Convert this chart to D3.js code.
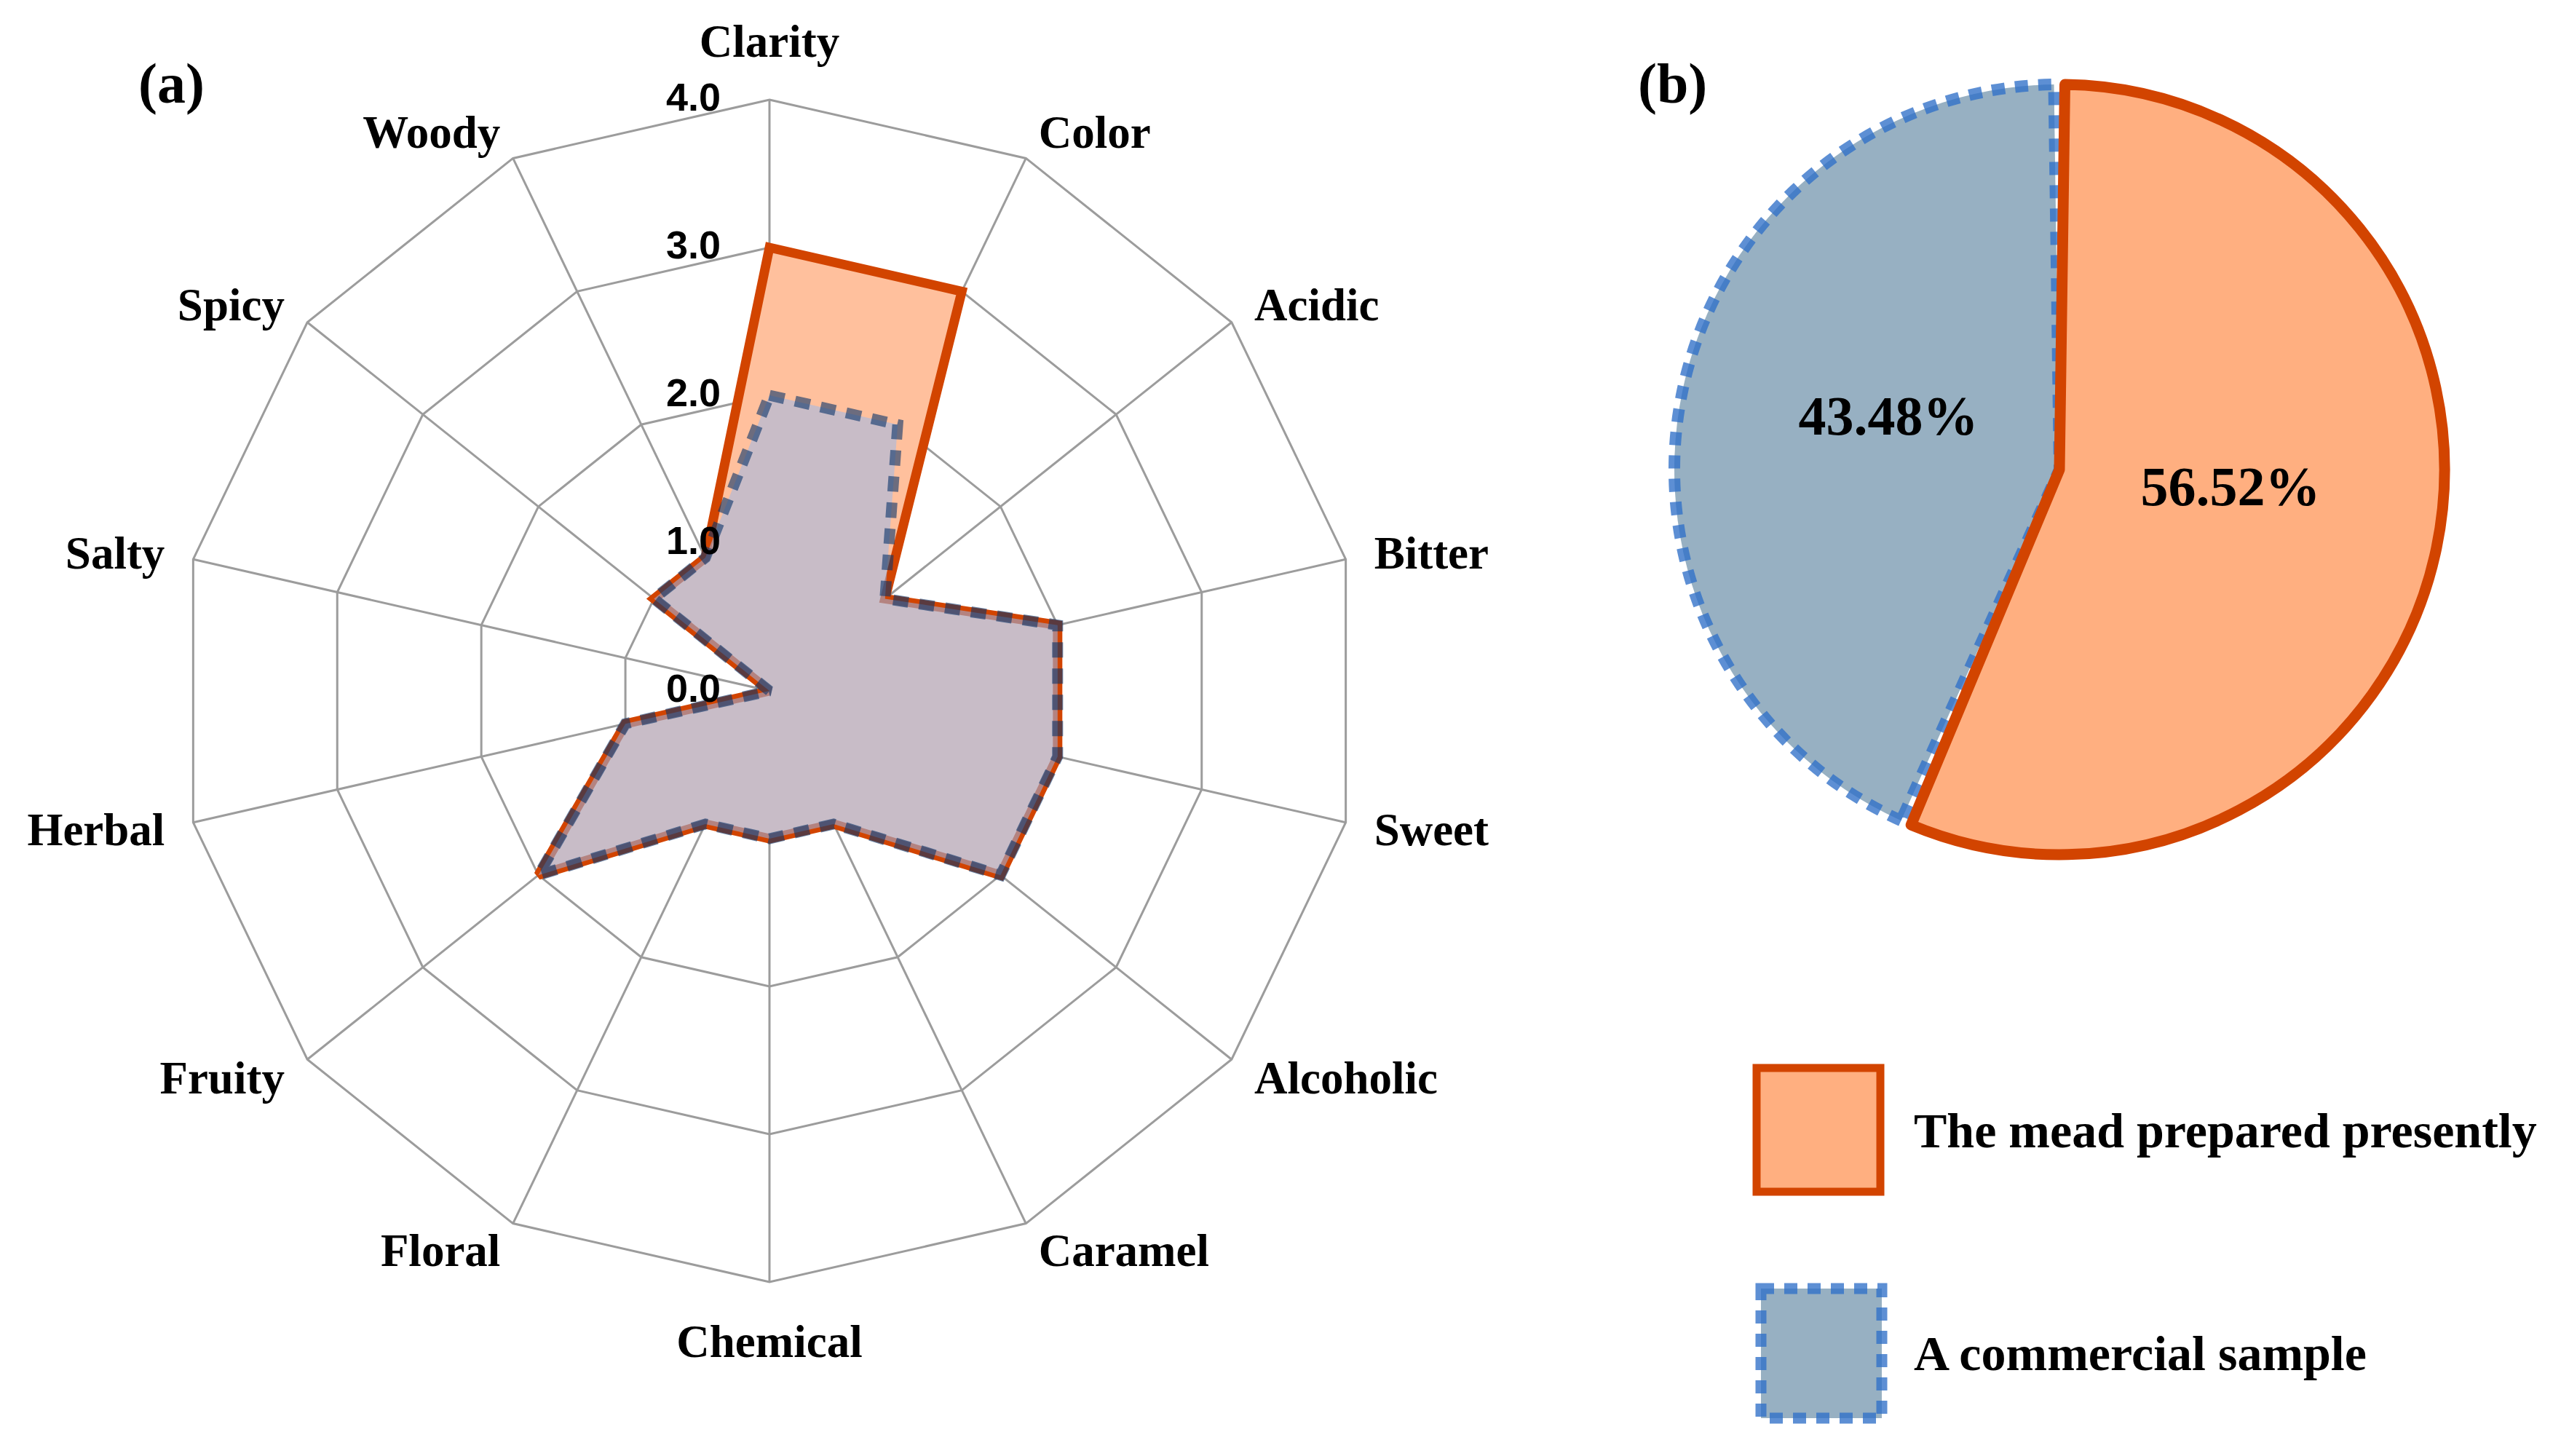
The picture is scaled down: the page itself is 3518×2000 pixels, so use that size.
<!DOCTYPE html>
<html>
<head>
<meta charset="utf-8">
<script src="https://cdn.jsdelivr.net/npm/d3@7"></script>
<style>
  body { margin: 0; background: #fff; }
  .axis-label { font-family: "Liberation Serif", "DejaVu Serif", serif; font-weight: bold; font-size: 63px; fill: #000; }
  .tick-label { font-family: "Liberation Sans", Arial, sans-serif; font-weight: bold; font-size: 54px; fill: #000; }
  .panel-label { font-family: "Liberation Serif", serif; font-weight: bold; font-size: 78px; fill: #000; }
  .pct-label { font-family: "Liberation Serif", serif; font-weight: bold; font-size: 76px; fill: #000; }
  .legend-label { font-family: "Liberation Serif", serif; font-weight: bold; font-size: 68px; fill: #000; }
</style>
</head>
<body>
<svg id="chart" width="3518" height="2000"></svg>
<script>
// ---- data ----
const attributes = ['Clarity', 'Color', 'Acidic', 'Bitter', 'Sweet', 'Alcoholic', 'Caramel',
  'Chemical', 'Floral', 'Fruity', 'Herbal', 'Salty', 'Spicy', 'Woody'];
const meadScores = [3.0, 3.0, 1.0, 2.0, 2.0, 2.0, 1.0, 1.0, 1.0, 2.0, 1.0, 0.0, 1.0, 1.0];
const commercialScores = [2.0, 2.0, 1.0, 2.0, 2.0, 2.0, 1.0, 1.0, 1.0, 2.0, 1.0, 0.0, 1.0, 1.0];
const radarTicks = [0, 1, 2, 3, 4];
const radarTickLabels = ['0.0', '1.0', '2.0', '3.0', '4.0'];

const seriesNames = ['The mead prepared presently', 'A commercial sample'];
const preference = [56.52, 43.48];

const svg = d3.select('#chart');

// ---- radar (a) ----
const CX = 1057, CY = 949, R = 812;
const rScale = d3.scaleLinear().domain([0, 4]).range([0, R]);
const aScale = d3.scaleLinear().domain([0, attributes.length]).range([0, 2 * Math.PI]);

const radar = svg.append('g').attr('transform', `translate(${CX},${CY})`);

const pt = (i, v) => [Math.sin(aScale(i)) * rScale(v), -Math.cos(aScale(i)) * rScale(v)];

// rings
radarTicks.slice(1).forEach((t) => {
  radar.append('polygon')
    .attr('points', attributes.map((d, i) => pt(i, t).join(',')).join(' '))
    .attr('fill', 'none')
    .attr('stroke', '#9c9c9c')
    .attr('stroke-width', 3);
});

// spokes
attributes.forEach((d, i) => {
  const p = pt(i, 4);
  radar.append('line')
    .attr('x1', 0).attr('y1', 0)
    .attr('x2', p[0]).attr('y2', p[1])
    .attr('stroke', '#9c9c9c')
    .attr('stroke-width', 3);
});

const radial = d3.lineRadial()
  .angle((d, i) => aScale(i))
  .radius((d) => rScale(d))
  .curve(d3.curveLinearClosed);

// mead prepared presently
radar.append('path')
  .attr('d', radial(meadScores))
  .attr('fill', '#ffc09d')
  .attr('stroke', '#d24400')
  .attr('stroke-width', 13)
  .attr('stroke-miterlimit', 2);

// commercial sample
radar.append('path')
  .attr('d', radial(commercialScores))
  .attr('fill', 'rgb(155,184,233)')
  .attr('fill-opacity', 0.55)
  .attr('stroke', 'rgb(10,52,105)')
  .attr('stroke-opacity', 0.6)
  .attr('stroke-width', 15)
  .attr('stroke-miterlimit', 2)
  .attr('stroke-dasharray', '21,15');

// tick labels
radarTicks.forEach((t, i) => {
  radar.append('text')
    .attr('class', 'tick-label')
    .attr('x', -67)
    .attr('y', -rScale(t) - 4)
    .attr('dy', '0.36em')
    .attr('text-anchor', 'end')
    .text(radarTickLabels[i]);
});

// category labels
attributes.forEach((d, i) => {
  const s = Math.sin(aScale(i));
  const middle = Math.abs(s) < 0.1;
  const off = middle ? 81 : 40;
  const [x, y] = pt(i, rScale.invert(R + off));
  radar.append('text')
    .attr('class', 'axis-label')
    .attr('x', x)
    .attr('y', y)
    .attr('dy', '0.35em')
    .attr('text-anchor', middle ? 'middle' : (s > 0 ? 'start' : 'end'))
    .text(d);
});

svg.append('text').attr('class', 'panel-label').attr('x', 190).attr('y', 141).text('(a)');

// ---- pie (b) ----
const PX = 2829, PY = 645, PR = 529;
const pie = d3.pie().sort(null).value((d) => d);
const arcs = pie(preference);
const arc = d3.arc().innerRadius(0).outerRadius(PR).padAngle(15 / PR).padRadius(PR);
const labelArc = d3.arc().innerRadius(240).outerRadius(240);

const pieG = svg.append('g').attr('transform', `translate(${PX},${PY})`);

// commercial slice
pieG.append('path')
  .attr('d', arc(arcs[1]))
  .attr('fill', '#97b0c2')
  .attr('stroke', '#2f6fc8')
  .attr('stroke-opacity', 0.78)
  .attr('stroke-width', 16)
  .attr('stroke-dasharray', '18,14');

// mead slice
pieG.append('path')
  .attr('d', arc(arcs[0]))
  .attr('fill', '#ffaf80')
  .attr('stroke', '#d24400')
  .attr('stroke-width', 15)
  .attr('stroke-linejoin', 'round');

arcs.forEach((a) => {
  const c = labelArc.centroid(a);
  pieG.append('text')
    .attr('class', 'pct-label')
    .attr('x', c[0])
    .attr('y', c[1] - 26)
    .attr('dy', '0.35em')
    .attr('text-anchor', 'middle')
    .text(a.data.toFixed(2) + '%');
});

svg.append('text').attr('class', 'panel-label').attr('x', 2250).attr('y', 141).text('(b)');

// ---- legend ----
const legendY = d3.scalePoint().domain(seriesNames).range([1552, 1858]);

svg.append('rect')
  .attr('x', 2413).attr('y', legendY(seriesNames[0]) - 85)
  .attr('width', 170).attr('height', 170)
  .attr('fill', '#ffaf80')
  .attr('stroke', '#d24400')
  .attr('stroke-width', 11);

svg.append('rect')
  .attr('x', 2419).attr('y', legendY(seriesNames[1]) - 88)
  .attr('width', 166).attr('height', 178)
  .attr('fill', '#97b0c2')
  .attr('stroke', '#2f6fc8')
  .attr('stroke-opacity', 0.78)
  .attr('stroke-width', 15)
  .attr('stroke-dasharray', '18,14');

seriesNames.forEach((d) => {
  svg.append('text')
    .attr('class', 'legend-label')
    .attr('x', 2629)
    .attr('y', legendY(d))
    .attr('dy', '0.35em')
    .text(d);
});
</script>
</body>
</html>
